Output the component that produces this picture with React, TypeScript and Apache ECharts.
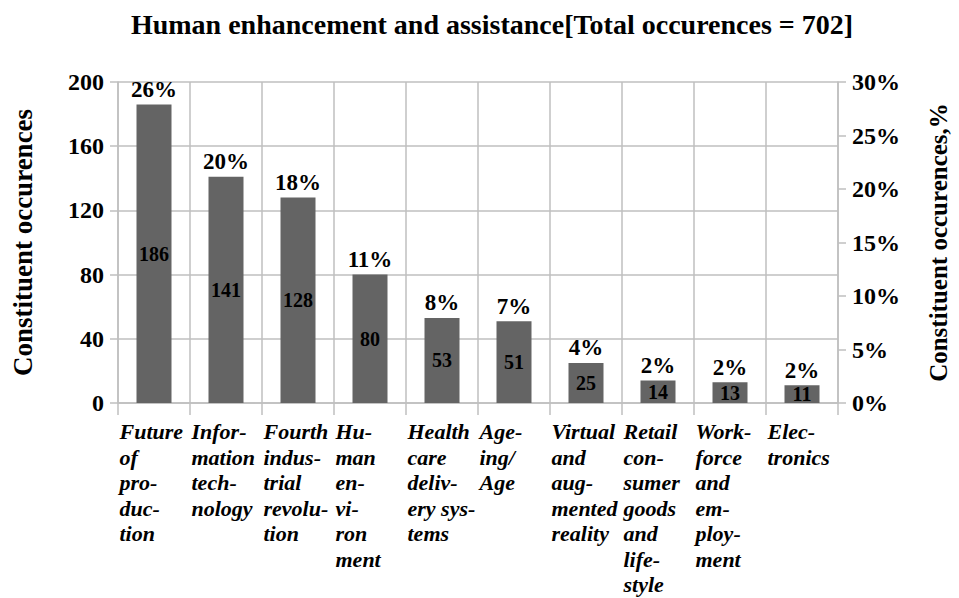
import React, { useEffect, useRef } from "react";
import * as echarts from "echarts";

const categories = [
  "Future\nof\npro-\nduc-\ntion",
  "Infor-\nmation\ntech-\nnology",
  "Fourth\nindus-\ntrial\nrevolu-\ntion",
  "Hu-\nman\nen-\nvi-\nron\nment",
  "Health\ncare\ndeliv-\nery sys-\ntems",
  "Age-\ning/\nAge",
  "Virtual\nand\naug-\nmented\nreality",
  "Retail\ncon-\nsumer\ngoods\nand\nlife-\nstyle",
  "Work-\nforce\nand\nem-\nploy-\nment",
  "Elec-\ntronics",
];
const occurrences = [186, 141, 128, 80, 53, 51, 25, 14, 13, 11];
const shares = [26, 20, 18, 11, 8, 7, 4, 2, 2, 2];
const leftTicks = { min: 0, max: 200, interval: 40 };
const rightTicks = { min: 0, max: 30, interval: 5 };
const titleText = "Human enhancement and assistance[Total occurences = 702]";
const leftName = "Constituent occurences";
const rightName = "Constituent occurences,%";

const FONT = "'Liberation Serif', 'Times New Roman', serif";

export default function App() {
  const ref = useRef<HTMLDivElement>(null);
  useEffect(() => {
    if (!ref.current) return;
    const chart = echarts.init(ref.current, null, { renderer: "svg" });
    const gridColor = "#bfbfbf";
    chart.setOption({
      animation: false,
      backgroundColor: "#ffffff",
      title: {
        text: titleText,
        left: 487,
        textAlign: "center",
        top: 5,
        textStyle: { fontFamily: FONT, fontWeight: "bold", fontSize: 28, color: "#000" },
      },
      grid: { left: 118, right: 114, top: 82, bottom: 195, containLabel: false },
      xAxis: {
        type: "category",
        data: categories,
        boundaryGap: true,
        axisLine: { show: true, lineStyle: { color: gridColor, width: 1.5 } },
        axisTick: { show: true, length: 12, lineStyle: { color: gridColor, width: 1.5 } },
        splitLine: { show: true, lineStyle: { color: gridColor, width: 1.5 } },
        axisLabel: {
          interval: 0,
          margin: 16,
          align: "center",
          formatter: (v: string) =>
            v
              .split("\n")
              .map((s) => `{a|${s}}`)
              .join("\n"),
          rich: {
            a: {
              width: 72,
              align: "left",
              fontFamily: FONT,
              fontStyle: "italic",
              fontWeight: "bold",
              fontSize: 22,
              lineHeight: 25.5,
              color: "#000",
              padding: [0, 0, 0, 3],
            },
          },
        },
      },
      yAxis: [
        {
          type: "value",
          min: leftTicks.min,
          max: leftTicks.max,
          interval: leftTicks.interval,
          name: leftName,
          nameLocation: "middle",
          nameRotate: 90,
          nameGap: 82,
          nameTextStyle: { fontFamily: FONT, fontWeight: "bold", fontSize: 27, color: "#000" },
          axisLine: { show: true, lineStyle: { color: gridColor, width: 1.5 } },
          axisTick: { show: true, length: 8, lineStyle: { color: gridColor, width: 1.5 } },
          splitLine: { show: true, lineStyle: { color: gridColor, width: 1.5 } },
          axisLabel: {
            margin: 14,
            fontFamily: FONT,
            fontWeight: "bold",
            fontSize: 24,
            color: "#000",
          },
        },
        {
          type: "value",
          min: rightTicks.min,
          max: rightTicks.max,
          interval: rightTicks.interval,
          position: "right",
          name: rightName,
          nameLocation: "middle",
          nameRotate: 90,
          nameGap: 88,
          nameTextStyle: { fontFamily: FONT, fontWeight: "bold", fontSize: 25, color: "#000" },
          axisLine: { show: true, lineStyle: { color: gridColor, width: 1.5 } },
          axisTick: { show: true, length: 8, lineStyle: { color: gridColor, width: 1.5 } },
          splitLine: { show: false },
          axisLabel: {
            margin: 14,
            formatter: "{value}%",
            fontFamily: FONT,
            fontWeight: "bold",
            fontSize: 24,
            color: "#000",
          },
        },
      ],
      series: [
        {
          type: "bar",
          data: occurrences,
          barWidth: 35,
          itemStyle: { color: "#646464" },
          label: {
            show: true,
            position: "inside",
            fontFamily: FONT,
            fontWeight: "bold",
            fontSize: 20,
            lineHeight: 14,
            color: "#000",
          },
          z: 2,
        },
        {
          type: "bar",
          data: occurrences,
          barWidth: 35,
          barGap: "-100%",
          itemStyle: { color: "rgba(0,0,0,0)" },
          label: {
            show: true,
            position: "top",
            distance: 6,
            formatter: (p: any) => `${shares[p.dataIndex]}%`,
            fontFamily: FONT,
            fontWeight: "bold",
            fontSize: 23,
            lineHeight: 18,
            color: "#000",
          },
          z: 3,
        },
      ],
    });
    return () => chart.dispose();
  }, []);
  return (
    <div
      ref={ref}
      style={{ position: "fixed", left: 0, top: 0, width: 959, height: 598 }}
    />
  );
}
